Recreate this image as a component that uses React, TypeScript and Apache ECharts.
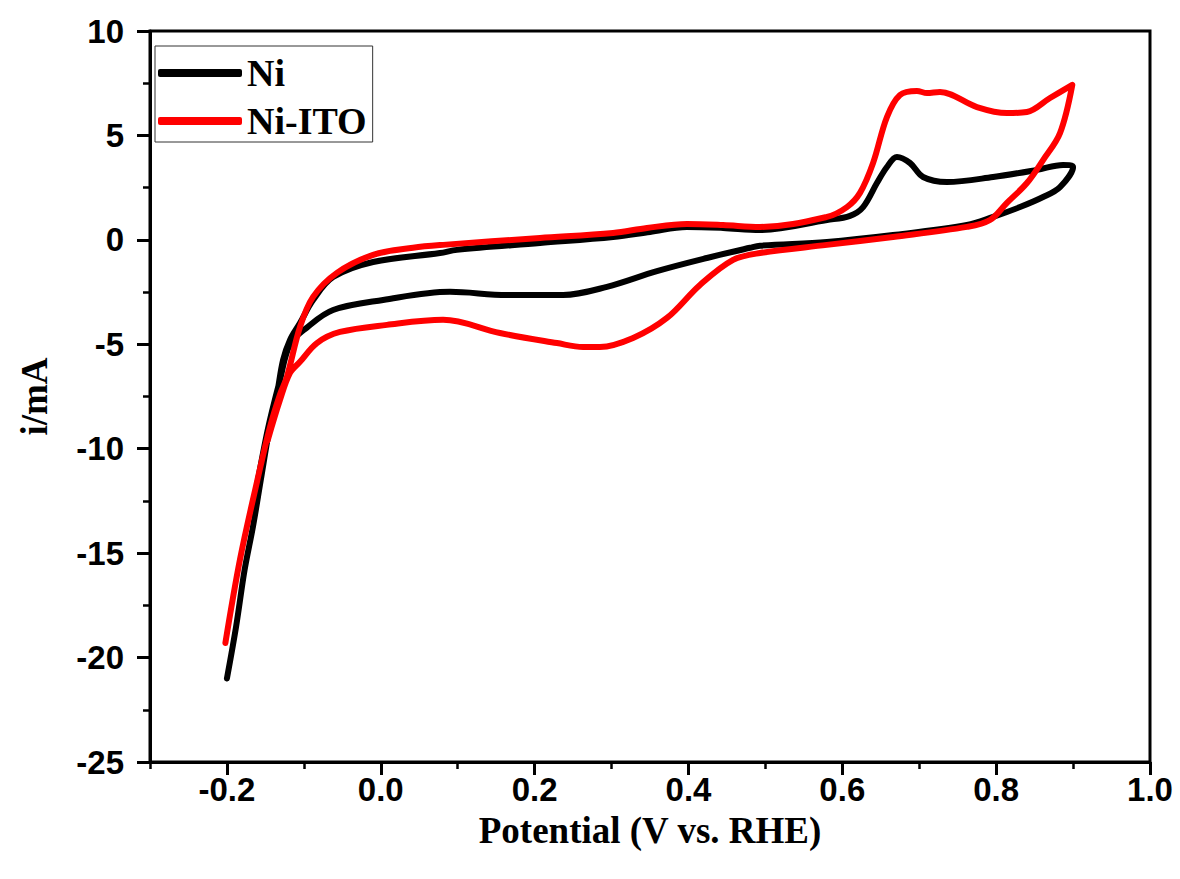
import React, { useEffect, useRef } from "react";
import * as echarts from "echarts";

// Potential (V vs. RHE) and current (mA) pairs, traced along each CV loop
const niPotential = [
  -0.200, -0.188, -0.177, -0.166, -0.156, -0.145, -0.135, -0.127, -0.118, -0.105,
  -0.088, -0.062, -0.010, 0.077, 0.099, 0.207, 0.302, 0.350, 0.398, 0.445,
  0.493, 0.580, 0.610, 0.627, 0.645, 0.658, 0.671, 0.688, 0.705, 0.736,
  0.796, 0.853, 0.887, 0.900,
  0.883, 0.861, 0.831, 0.796, 0.762, 0.666, 0.580, 0.493, 0.480, 0.424,
  0.359, 0.294, 0.237, 0.164, 0.090, 0.003, -0.062, -0.096, -0.118, -0.131,
  -0.147, -0.164,
];
const niCurrent = [
  -21.0, -18.5, -15.8, -13.7, -11.5, -9.1, -7.4, -5.75, -4.79, -3.98,
  -2.88, -1.78, -1.06, -0.63, -0.48, -0.15, 0.14, 0.38, 0.62, 0.57,
  0.47, 0.95, 1.15, 1.57, 2.72, 3.49, 3.97, 3.68, 3.01, 2.77,
  3.01, 3.35, 3.59, 3.49,
  2.53, 2.05, 1.57, 1.10, 0.71, 0.23, -0.10, -0.28, -0.38, -0.87,
  -1.50, -2.25, -2.64, -2.64, -2.49, -2.88, -3.36, -4.20, -5.00, -6.70,
  -9.10, -12.4,
];

const itoPotential = [
  -0.202, -0.183, -0.161, -0.144, -0.131, -0.122, -0.105, -0.088, -0.057, -0.010,
  0.042, 0.081, 0.207, 0.302, 0.346, 0.398, 0.445, 0.493, 0.580, 0.606,
  0.623, 0.640, 0.658, 0.675, 0.697, 0.710, 0.727, 0.775, 0.814, 0.840,
  0.870, 0.899,
  0.883, 0.861, 0.840, 0.814, 0.792, 0.762, 0.666, 0.580, 0.493, 0.458,
  0.415, 0.372, 0.328, 0.285, 0.263, 0.229, 0.155, 0.081, 0.008, -0.053,
  -0.083, -0.105, -0.118, -0.131, -0.147,
];
const itoCurrent = [
  -19.3, -15.3, -11.6, -8.96, -7.4, -6.56, -4.17, -2.73, -1.58, -0.72,
  -0.38, -0.24, 0.09, 0.33, 0.57, 0.76, 0.71, 0.62, 1.10, 1.57,
  2.25, 3.68, 5.88, 6.94, 7.13, 7.03, 7.08, 6.36, 6.07, 6.12,
  6.79, 7.42,
  5.11, 3.82, 2.72, 1.77, 0.95, 0.62, 0.14, -0.24, -0.63, -0.96,
  -2.16, -3.74, -4.70, -5.13, -5.13, -4.94, -4.46, -3.83, -4.07, -4.41,
  -4.94, -5.84, -6.37, -7.66, -9.6,
];

const xMajorTicks = [-0.2, 0.0, 0.2, 0.4, 0.6, 0.8, 1.0];
const xMinorTicks = [-0.3, -0.1, 0.1, 0.3, 0.5, 0.7, 0.9];

const seriesNames = ["Ni", "Ni-ITO"];
const seriesColors = ["#000000", "#ff0000"];

const pair = (xs: number[], ys: number[]) => xs.map((x, i) => [x, ys[i]]);

export default function App() {
  const ref = useRef<HTMLDivElement>(null);

  useEffect(() => {
    document.body.style.margin = "0";
    if (!ref.current) return;
    const chart = echarts.init(ref.current, null, { renderer: "svg" });
    const sans = "Liberation Sans";
    const serif = "Liberation Serif";
    const tickLabel = {
      fontFamily: sans,
      fontWeight: "bold" as const,
      fontSize: 33,
      color: "#000",
    };
    chart.setOption({
      animation: false,
      backgroundColor: "#fff",
      grid: {
        left: 150,
        right: 30,
        top: 31,
        bottom: 117,
        show: true,
        borderColor: "#000",
        borderWidth: 3,
        backgroundColor: "transparent",
      },
      legend: {
        orient: "vertical",
        left: 155,
        top: 46,
        data: seriesNames,
        icon: "roundRect",
        itemWidth: 84,
        itemHeight: 8,
        itemGap: 10,
        padding: [8, 6, 2, 3],
        borderColor: "#333",
        borderWidth: 1,
        backgroundColor: "#fff",
        textStyle: {
          fontFamily: serif,
          fontWeight: "bold",
          fontSize: 38,
          lineHeight: 38,
          color: "#000",
        },
      },
      xAxis: [
        {
          type: "value",
          min: -0.3,
          max: 1.0,
          name: "Potential (V vs. RHE)",
          nameLocation: "middle",
          nameGap: 50,
          nameTextStyle: { fontFamily: serif, fontWeight: "bold", fontSize: 37, color: "#000" },
          axisLine: { show: true, onZero: false, lineStyle: { color: "#000", width: 3 } },
          axisTick: {
            show: true,
            inside: false,
            length: 13,
            customValues: xMajorTicks,
            lineStyle: { color: "#000", width: 3 },
          },
          axisLabel: {
            ...tickLabel,
            margin: 11,
            customValues: xMajorTicks,
            formatter: (v: number) => v.toFixed(1),
          },
          splitLine: { show: false },
        },
        {
          type: "value",
          min: -0.3,
          max: 1.0,
          position: "bottom",
          axisLine: { show: false, onZero: false },
          axisTick: {
            show: true,
            length: 7,
            customValues: xMinorTicks,
            lineStyle: { color: "#000", width: 2.5 },
          },
          axisLabel: { show: false },
          splitLine: { show: false },
        },
      ],
      yAxis: {
        type: "value",
        min: -25,
        max: 10,
        interval: 5,
        name: "i/mA",
        nameLocation: "middle",
        nameGap: 97,
        nameTextStyle: { fontFamily: serif, fontWeight: "bold", fontSize: 37, color: "#000" },
        axisLine: { show: true, onZero: false, lineStyle: { color: "#000", width: 3 } },
        axisTick: { show: true, length: 13, lineStyle: { color: "#000", width: 3 } },
        minorTick: { show: true, splitNumber: 2, length: 7, lineStyle: { color: "#000", width: 2.5 } },
        axisLabel: { ...tickLabel, margin: 26 },
        splitLine: { show: false },
        minorSplitLine: { show: false },
      },
      series: [
        {
          name: seriesNames[0],
          type: "line",
          xAxisIndex: 0,
          data: pair(niPotential, niCurrent),
          showSymbol: false,
          smooth: 0.35,
          lineStyle: { color: seriesColors[0], width: 6, cap: "round", join: "round" },
          itemStyle: { color: seriesColors[0] },
        },
        {
          name: seriesNames[1],
          type: "line",
          xAxisIndex: 0,
          data: pair(itoPotential, itoCurrent),
          showSymbol: false,
          smooth: 0.35,
          lineStyle: { color: seriesColors[1], width: 6, cap: "round", join: "round" },
          itemStyle: { color: seriesColors[1] },
        },
      ],
    });
    return () => chart.dispose();
  }, []);

  return (
    <div
      ref={ref}
      style={{ position: "absolute", left: 0, top: 0, width: 1180, height: 879 }}
    />
  );
}
